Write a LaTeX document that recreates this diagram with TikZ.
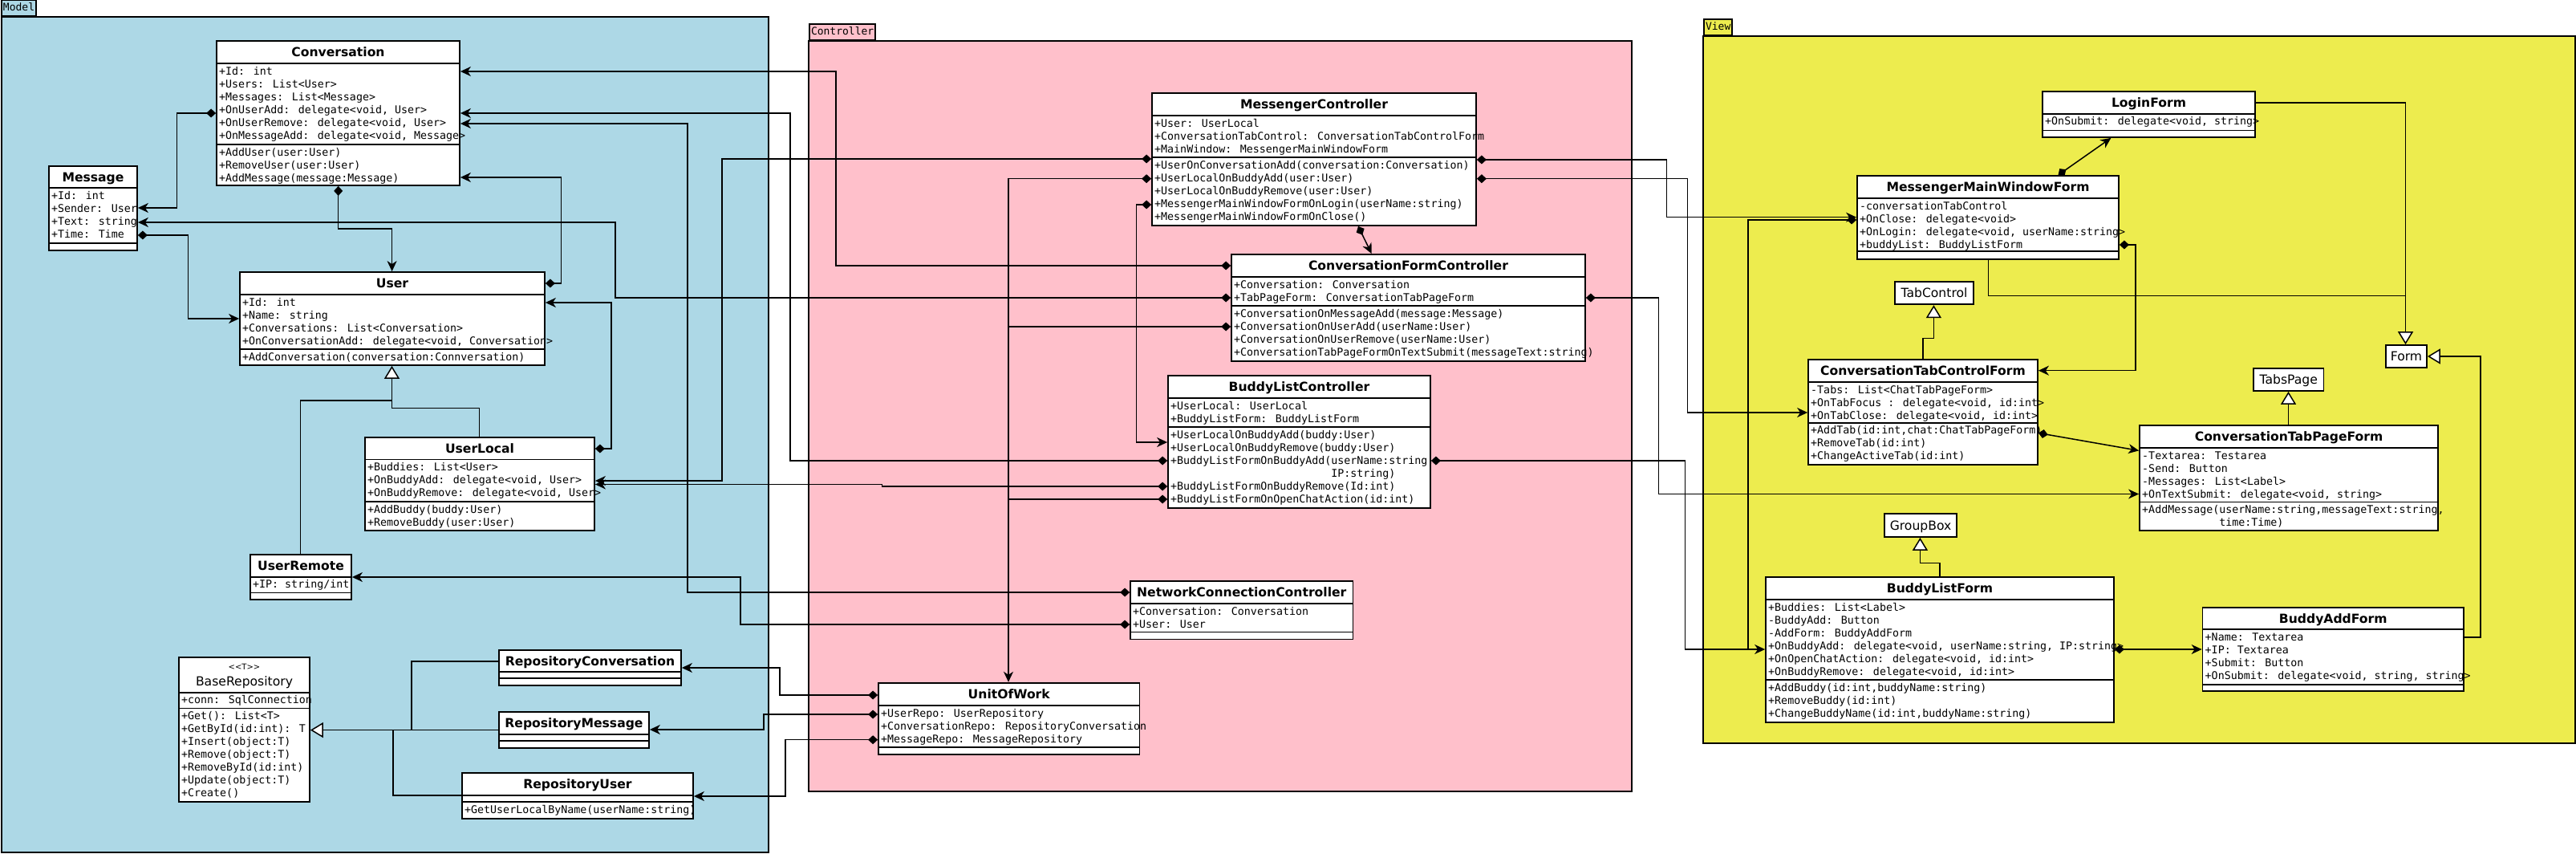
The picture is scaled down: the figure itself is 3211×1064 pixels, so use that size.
\documentclass[tikz,border=0pt]{standalone}
\usepackage{fontspec}
\newfontfamily\monof{DejaVu Sans Mono}
\newfontfamily\sansf{DejaVu Sans}
\usetikzlibrary{fit,arrows.meta}
\definecolor{modelblue}{HTML}{ADD8E6}
\definecolor{ctrlpink}{HTML}{FFC0CB}
\definecolor{viewyellow}{HTML}{EDEC4E}
\tikzset{
  pkgframe/.style={draw, line width=2pt, inner sep=0pt},
  pkgtab/.style={draw, line width=2pt, inner xsep=2pt, inner ysep=0pt, minimum height=20pt, text height=9.5pt, text depth=2.5pt, font=\monof\fontsize{13}{15}\selectfont, anchor=south west},
  clsbox/.style={draw, fill=white, line width=1.8pt, inner sep=0pt},
  clsline/.style={line width=1.8pt},
  titletext/.style={inner sep=0pt, text height=11.4pt, text depth=0pt, font=\sansf\fontsize{15.6}{18}\selectfont\bfseries},
  attrtext/.style={inner sep=0pt, align=left, anchor=north west, font=\monof\fontsize{13.3}{16}\selectfont},
  simplecls/.style={draw, fill=white, line width=1.8pt, inner sep=0pt, text height=11.4pt, text depth=0pt, font=\sansf\fontsize{15.6}{18}\selectfont},
  conn/.style={line width=1.5pt},
  comp/.style={conn, {Diamond[length=12pt,width=11pt]}-{Stealth[length=13pt,width=12pt,inset=4pt]}},
  compstart/.style={conn, {Diamond[length=12pt,width=11pt]}-},
  gen/.style={conn, -{Triangle[open,length=16pt,width=19pt,fill=white]}},
}
% #1 name/title, (x1,x2,ytop,ytitle,yattr,ybottom), #8 attributes, #9 methods
\def\umlc#1(#2,#3,#4,#5,#6,#7)#8#9{%
  \node[clsbox, fit={(#2,#4)(#3,#7)}] (#1) {};
  \draw[clsline] (#2,#5) -- (#3,#5) (#2,#6) -- (#3,#6);
  \node[titletext] (#1-t) at ({(#2+#3)/2},{(#4+#5)/2}) {#1};
  \node[attrtext] (#1-a) at ({#2+3},{#5+2}) {\vrule height12pt width0pt depth0pt\relax #8};
  \node[attrtext] (#1-m) at ({#2+3},{#6+2}) {\vrule height12pt width0pt depth0pt\relax #9};
}
\begin{document}
\begin{tikzpicture}[x=1pt,y=-1pt]
\useasboundingbox (0,0) rectangle (3211,1064);
% ---------- packages ----------
\node[pkgframe, fill=modelblue, fit={(2,21)(958,1062)}] (model) {};
\node[pkgtab, fill=modelblue] (modeltab) at (1,21) {Model};
\node[pkgframe, fill=ctrlpink, fit={(1008,51)(2034,986)}] (controller) {};
\node[pkgtab, fill=ctrlpink] (controllertab) at (1008,51) {Controller};
\node[pkgframe, fill=viewyellow, fit={(2123,45)(3210,926)}] (view) {};
\node[pkgtab, fill=viewyellow] (viewtab) at (2123,45) {View};

% ---------- Model ----------
\umlc{Conversation}(270,573,51,79,180,231)
 {+Id: int\\+Users: List<User>\\+Messages: List<Message>\\+OnUserAdd: delegate<void, User>\\+OnUserRemove: delegate<void, User>\\+OnMessageAdd: delegate<void, Message>}
 {+AddUser(user:User)\\+RemoveUser(user:User)\\+AddMessage(message:Message)}
\umlc{Message}(61,171,207,234,303,312)
 {+Id: int\\+Sender: User\\+Text: string\\+Time: Time}{}
\umlc{User}(299,679,339,367,435,455)
 {+Id: int\\+Name: string\\+Conversations: List<Conversation>\\+OnConversationAdd: delegate<void, Conversation>}
 {+AddConversation(conversation:Connversation)}
\umlc{UserLocal}(455,741,545,572.5,625,661)
 {+Buddies: List<User>\\+OnBuddyAdd: delegate<void, User>\\+OnBuddyRemove: delegate<void, User>}
 {+AddBuddy(buddy:User)\\+RemoveBuddy(user:User)}
\umlc{UserRemote}(312,438,691,718.6,738.4,747)
 {+IP: string/int}{}
\umlc{RepositoryConversation}(622,849,810,837,845,854){}{}
\umlc{RepositoryMessage}(622,809,887,914.7,923,932){}{}
\umlc{RepositoryUser}(576,864,963,991,999,1020){}{+GetUserLocalByName(userName:string)}
% BaseRepository (template class)
\node[clsbox, fit={(223,819)(386,999)}] (BaseRepository) {};
\draw[clsline] (223,862.6) -- (386,862.6) (223,882.5) -- (386,882.5);
\node[inner sep=0pt, font=\sansf\fontsize{10}{12}\selectfont] (BaseRepository-s) at (304.5,830.5) {<\kern0pt<T>\kern0pt>};
\node[inner sep=0pt, text height=11.4pt, text depth=0pt, font=\sansf\fontsize{15.6}{18}\selectfont] (BaseRepository-t) at (304.5,848.7) {BaseRepository};
\node[attrtext] (BaseRepository-a) at (226,864.6) {\vrule height12pt width0pt depth0pt\relax +conn: SqlConnection};
\node[attrtext] (BaseRepository-m) at (226,884.5) {\vrule height12pt width0pt depth0pt\relax +Get(): List<T>\\+GetById(id:int): T\\+Insert(object:T)\\+Remove(object:T)\\+RemoveById(id:int)\\+Update(object:T)\\+Create()};

% ---------- Controller ----------
\umlc{MessengerController}(1436,1840,116,144.3,196,281)
 {+User: UserLocal\\+ConversationTabControl: ConversationTabControlForm\\+MainWindow: MessengerMainWindowForm}
 {+UserOnConversationAdd(conversation:Conversation)\\+UserLocalOnBuddyAdd(user:User)\\+UserLocalOnBuddyRemove(user:User)\\+MessengerMainWindowFormOnLogin(userName:string)\\+MessengerMainWindowFormOnClose()}
\umlc{ConversationFormController}(1535,1976,317,345.3,381,450)
 {+Conversation: Conversation\\+TabPageForm: ConversationTabPageForm}
 {+ConversationOnMessageAdd(message:Message)\\+ConversationOnUserAdd(userName:User)\\+ConversationOnUserRemove(userName:User)\\+ConversationTabPageFormOnTextSubmit(messageText:string)}
\umlc{BuddyListController}(1456,1783,468,496,532,633)
 {+UserLocal: UserLocal\\+BuddyListForm: BuddyListForm}
 {+UserLocalOnBuddyAdd(buddy:User)\\+UserLocalOnBuddyRemove(buddy:User)\\+BuddyListFormOnBuddyAdd(userName:string,\\\phantom{+BuddyListFormOnBuddyAdd(}IP:string)\\+BuddyListFormOnBuddyRemove(Id:int)\\+BuddyListFormOnOpenChatAction(id:int)}
\umlc{NetworkConnectionController}(1409,1686.5,724,752,787.5,796.4)
 {+Conversation: Conversation\\+User: User}{}
\umlc{UnitOfWork}(1095,1420.5,850.7,879.3,931,940)
 {+UserRepo: UserRepository\\+ConversationRepo: RepositoryConversation\\+MessageRepo: MessageRepository}{}

% ---------- View ----------
\umlc{LoginForm}(2546,2811,114,141.7,162.5,171)
 {+OnSubmit: delegate<void, string>}{}
\umlc{MessengerMainWindowForm}(2315,2641,219,247,313.3,323)
 {-conversationTabControl\\+OnClose: delegate<void>\\+OnLogin: delegate<void, userName:string>\\+buddyList: BuddyListForm}{}
\umlc{ConversationTabControlForm}(2254,2540,447.7,475.8,526.7,579.3)
 {-Tabs: List<ChatTabPageForm>\\+OnTabFocus : delegate<void, id:int>\\+OnTabClose: delegate<void, id:int>}
 {+AddTab(id:int,chat:ChatTabPageForm)\\+RemoveTab(id:int)\\+ChangeActiveTab(id:int)}
\umlc{ConversationTabPageForm}(2667,3039,530,557.8,625.4,661)
 {-Textarea: Testarea\\-Send: Button\\-Messages: List<Label>\\+OnTextSubmit: delegate<void, string>}
 {+AddMessage(userName:string,messageText:string,\\\phantom{+AddMessage(}time:Time)}
\umlc{BuddyListForm}(2201,2635,719.3,747.2,847,899.6)
 {+Buddies: List<Label>\\-BuddyAdd: Button\\-AddForm: BuddyAddForm\\+OnBuddyAdd: delegate<void, userName:string, IP:string>\\+OnOpenChatAction: delegate<void, id:int>\\+OnBuddyRemove: delegate<void, id:int>}
 {+AddBuddy(id:int,buddyName:string)\\+RemoveBuddy(id:int)\\+ChangeBuddyName(id:int,buddyName:string)}
\umlc{BuddyAddForm}(2745.5,3071,756.7,784.2,853,861)
 {+Name: Textarea\\+IP: Textarea\\+Submit: Button\\+OnSubmit: delegate<void, string, string>}{}
\node[simplecls, minimum width=98pt, minimum height=28.6pt] (TabControl) at (2411,365) {TabControl};
\node[simplecls, minimum width=51pt, minimum height=28.3pt] (Form) at (2999.5,444.2) {Form};
\node[simplecls, minimum width=87.5pt, minimum height=28.3pt] (TabsPage) at (2852.75,472.85) {TabsPage};
\node[simplecls, minimum width=89.3pt, minimum height=29pt] (GroupBox) at (2394,654.5) {GroupBox};

% ---------- connectors: Model ----------
\draw[comp] (Conversation.west |- 0,141) -- (220.5,141) -- (220.5,259) -- (Message.east |- 0,259);
\draw[comp] (Conversation.south -| 421.7,0) -- (421.7,285) -- (488.6,285) -- (User.north -| 488.6,0);
\draw[comp] (Message.east |- 0,293) -- (234.6,293) -- (234.6,397) -- (User.west |- 0,397);
\draw[comp] (User.east |- 0,353) -- (699.5,353) -- (699.5,221) -- (Conversation.east |- 0,221);
\draw[comp] (UserLocal.east |- 0,559) -- (762,559) -- (762,377) -- (User.east |- 0,377);
\draw[gen] (UserLocal.north -| 597.5,0) -- (597.5,508.4) -- (488.5,508.4) -- (User.south -| 488.5,0);
\draw[conn] (UserRemote.north -| 374.7,0) -- (374.7,499) -- (488.5,499);
\draw[gen] (RepositoryConversation.west |- 0,824) -- (513,824) -- (513,909.6) -- (BaseRepository.east |- 0,909.6);
\draw[conn] (RepositoryMessage.west |- 0,909.6) -- (513,909.6);
\draw[conn] (RepositoryUser.west |- 0,991) -- (489.8,991) -- (489.8,909.6);

% ---------- connectors: Controller -> Model ----------
\draw[comp] (ConversationFormController.west |- 0,331) -- (1042,331) -- (1042,89) -- (Conversation.east |- 0,89);
\draw[comp] (BuddyListController.west |- 0,574) -- (985,574) -- (985,141) -- (Conversation.east |- 0,141);
\draw[comp] (NetworkConnectionController.west |- 0,738) -- (857,738) -- (857,154) -- (Conversation.east |- 0,154);
\draw[comp] (MessengerController.west |- 0,198) -- (900,198) -- (900,599) -- (UserLocal.east |- 0,599);
\draw[comp] (BuddyListController.west |- 0,606) -- (1099.5,606) -- (1099.5,603.5) -- (UserLocal.east |- 0,603.5);
\draw[comp] (ConversationFormController.west |- 0,371) -- (767,371) -- (767,277) -- (Message.east |- 0,277);
\draw[comp] (NetworkConnectionController.west |- 0,778) -- (923,778) -- (923,719) -- (UserRemote.east |- 0,719);
\draw[comp] (UnitOfWork.west |- 0,866) -- (972,866) -- (972,832) -- (RepositoryConversation.east |- 0,832);
\draw[comp] (UnitOfWork.west |- 0,890) -- (952,890) -- (952,909) -- (RepositoryMessage.east |- 0,909);
\draw[comp] (UnitOfWork.west |- 0,921.7) -- (979,921.7) -- (979,992) -- (RepositoryUser.east |- 0,992);

% ---------- connectors: inside Controller ----------
\draw[comp] (MessengerController.west |- 0,222.7) -- (1257,222.7) -- (UnitOfWork.north -| 1257,0);
\draw[compstart] (ConversationFormController.west |- 0,407) -- (1257,407);
\draw[compstart] (BuddyListController.west |- 0,622) -- (1257,622);
\draw[comp] (MessengerController.west |- 0,255) -- (1416.6,255) -- (1416.6,551) -- (BuddyListController.west |- 0,551);
\draw[comp] (MessengerController.south -| 1693,0) -- (ConversationFormController.north -| 1709.7,0);

% ---------- connectors: Controller -> View ----------
\draw[comp] (MessengerController.east |- 0,199) -- (2077.5,199) -- (2077.5,270.7) -- (MessengerMainWindowForm.west |- 0,270.7);
\draw[comp] (MessengerController.east |- 0,222.7) -- (2103.6,222.7) -- (2103.6,514) -- (ConversationTabControlForm.west |- 0,514);
\draw[comp] (ConversationFormController.east |- 0,371) -- (2067.7,371) -- (2067.7,615.5) -- (ConversationTabPageForm.west |- 0,615.5);
\draw[comp] (BuddyListController.east |- 0,574) -- (2100.7,574) -- (2100.7,809) -- (BuddyListForm.west |- 0,809);

% ---------- connectors: View ----------
\draw[compstart] (MessengerMainWindowForm.west |- 0,274) -- (2179,274) -- (2179,809);
\draw[comp] (MessengerMainWindowForm.north -| 2565.5,0) -- (LoginForm.south -| 2631.4,0);
\draw[comp] (MessengerMainWindowForm.east |- 0,305) -- (2662,305) -- (2662,461.7) -- (ConversationTabControlForm.east |- 0,461.7);
\draw[gen] (LoginForm.east |- 0,128) -- (2998.5,128) -- (Form.north -| 2998.5,0);
\draw[conn] (MessengerMainWindowForm.south -| 2478.4,0) -- (2478.4,368.3) -- (2998.5,368.3);
\draw[gen] (BuddyAddForm.east |- 0,794) -- (3092,794) -- (3092,444) -- (Form.east |- 0,444);
\draw[gen] (ConversationTabControlForm.north -| 2397,0) -- (2397,421.7) -- (2410.4,421.7) -- (TabControl.south -| 2410.4,0);
\draw[gen] (ConversationTabPageForm.north -| 2852.5,0) -- (TabsPage.south -| 2852.5,0);
\draw[gen] (BuddyListForm.north -| 2418,0) -- (2418,701.4) -- (2393.4,701.4) -- (GroupBox.south -| 2393.4,0);
\draw[comp] (ConversationTabControlForm.east |- 0,539.5) -- (ConversationTabPageForm.west |- 0,561.4);
\draw[comp] (BuddyListForm.east |- 0,809) -- (BuddyAddForm.west |- 0,809);
\end{tikzpicture}
\end{document}
